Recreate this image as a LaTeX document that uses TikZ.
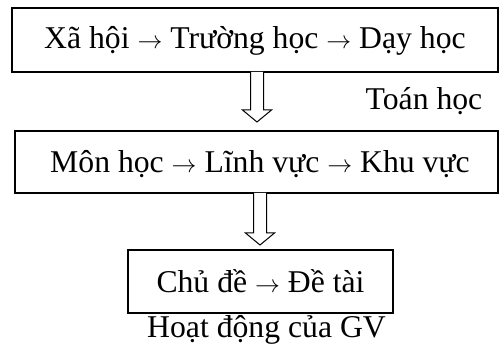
\documentclass[tikz,border=0pt]{standalone}
\usepackage{fontspec}
\setmainfont{Liberation Serif}
\usetikzlibrary{calc}
\tikzset{
  box/.style={draw, line width=1.6pt, inner sep=0pt},
  lbl/.style={font=\fontsize{31.7}{34}\selectfont, inner sep=0pt, anchor=base},
  blockarrow/.style={draw, line width=1pt, fill=white, line join=miter}
}
\newcommand{\blockarr}[2]{%
  \draw[blockarrow] ($(#1)+(-6.5,0)$) -- ($(#2)+(-6.5,-12)$) -- ($(#2)+(-14.5,-12)$) -- (#2)
    -- ($(#2)+(14.5,-12)$) -- ($(#2)+(6.5,-12)$) -- ($(#1)+(6.5,0)$);}
\begin{document}
\begin{tikzpicture}[x=1pt,y=-1pt]
\useasboundingbox (0,0) rectangle (499,352);
% boxes
\node[box, minimum width=486pt, minimum height=64pt] (b1) at (255,40) {};
\node[box, minimum width=483pt, minimum height=62pt] (b2) at (256.5,162) {};
\node[box, minimum width=265pt, minimum height=63pt] (b3) at (260.5,281.5) {};
% texts
\node[lbl] (t1) at (255,48.5) {Xã hội $\rightarrow$ Trường học $\rightarrow$ Dạy học};
\node[lbl] (t2) at (260,173) {Môn học $\rightarrow$ Lĩnh vực $\rightarrow$ Khu vực};
\node[lbl] (t3) at (260.5,293) {Chủ đề $\rightarrow$ Đề tài};
\node[lbl] (tq) at (424,110) {Toán học};
\node[lbl] (hd) at (266.5,338) {Hoạt động của GV};
% arrows
\coordinate (a1t) at (257,72);
\coordinate (a1b) at (257,122);
\coordinate (a2t) at (260,193);
\coordinate (a2b) at (260,245);
\blockarr{a1t}{a1b}
\blockarr{a2t}{a2b}
\end{tikzpicture}
\end{document}
